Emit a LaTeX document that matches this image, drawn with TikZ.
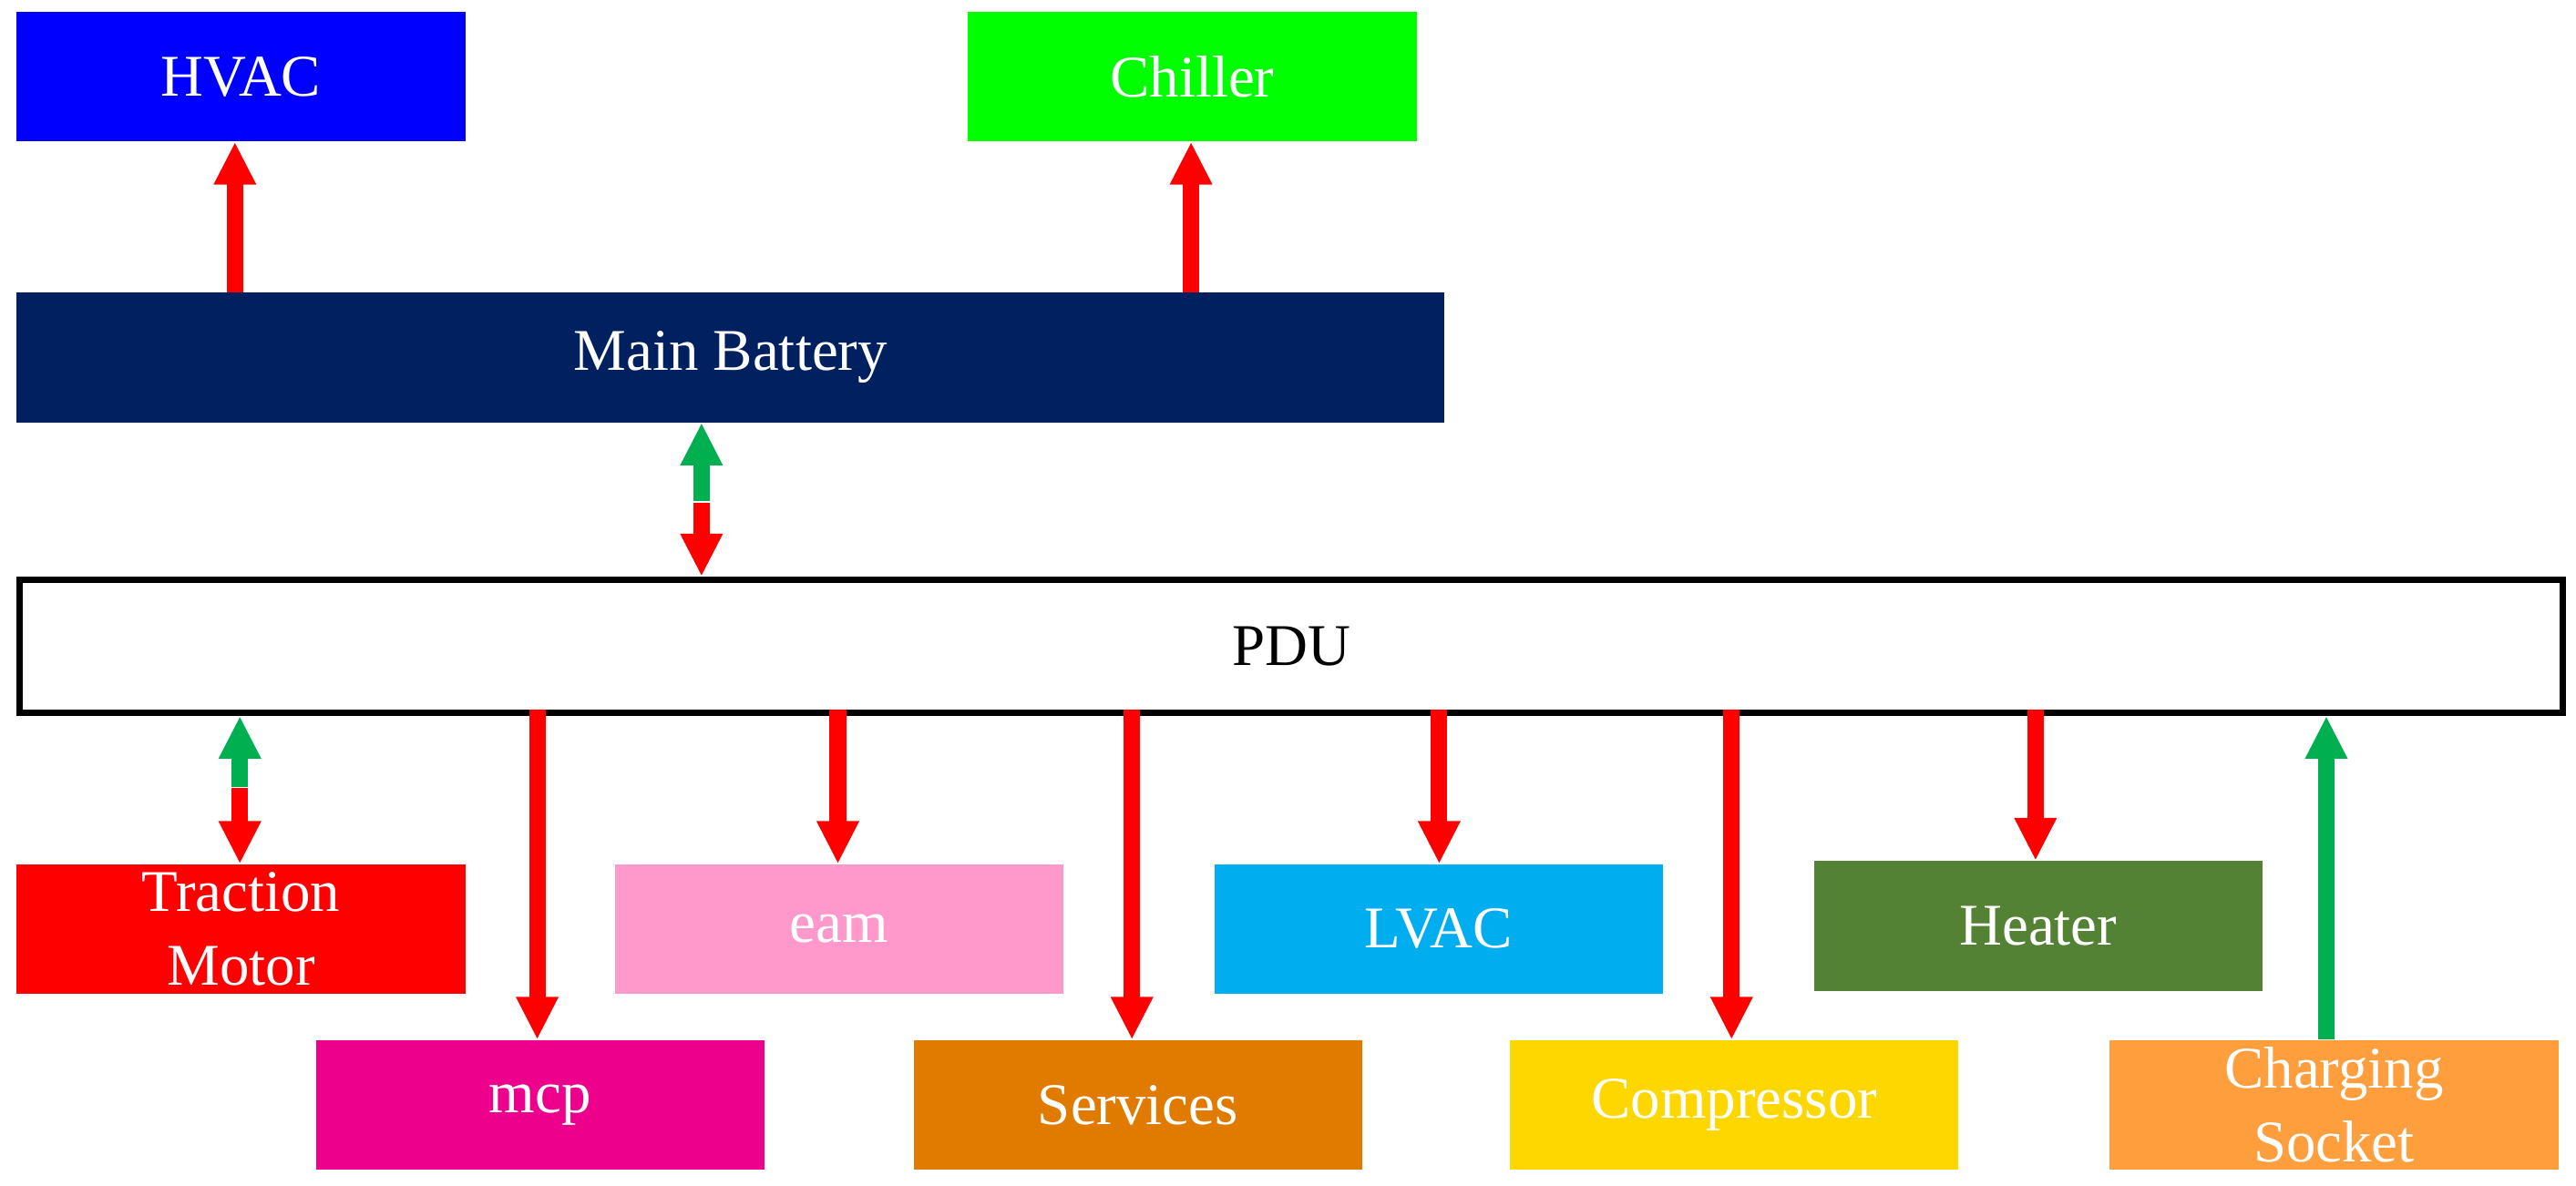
\documentclass[tikz,border=0pt]{standalone}
\usepackage{fontspec}
\setmainfont{Liberation Serif}
\usetikzlibrary{arrows.meta}
\definecolor{navy}{HTML}{002060}
\definecolor{pinkc}{HTML}{FF99CC}
\definecolor{heat}{HTML}{548235}
\definecolor{serv}{HTML}{E07B00}
\definecolor{comp}{HTML}{FFD700}
\definecolor{chg}{HTML}{FF9E3D}
\definecolor{gar}{HTML}{00B050}
\begin{document}
\begin{tikzpicture}[x=1pt,y=-1pt,
 box/.style={draw=none,minimum width=273pt,minimum height=79pt,inner sep=0pt,anchor=north west},
 txt/.style={text=white,font=\fontsize{36}{45}\selectfont,align=center},
 arr/.style={line width=10pt,-{Triangle[width=24pt,length=26pt]}},
 red arr/.style={arr,draw=red},
 grn arr/.style={arr,draw=gar}]
\useasboundingbox (0,0) rectangle (1568,722);
\node[box,fill=blue] (hvac) at (10,7) {};
\node[box,fill=green] (chil) at (589,7) {};
\node[box,fill=navy,minimum width=869pt] (mb) at (10,178) {};
\node[box,draw=black,line width=4pt,fill=white,minimum width=1548pt,minimum height=81pt] (pdu) at (10,351) {};
\node[box,fill=red] (tm) at (10,526) {};
\node[box,fill=pinkc] (eam) at (374,526) {};
\node[box,fill=cyan] (lvac) at (739,526) {};
\node[box,fill=heat] (heat) at (1104,524) {};
\node[box,fill=magenta] (mcp) at (192,633) {};
\node[box,fill=serv] (serv) at (556,633) {};
\node[box,fill=comp] (comp) at (919,633) {};
\node[box,fill=chg] (chg) at (1284,633) {};
\node[txt] (thvac) at (hvac.center) {HVAC};
\node[txt] (tchil) at (chil.center) {Chiller};
\node[txt] (tmb) at (mb.center) {Main Battery};
\node[txt,text=black] (tpdu) at (pdu.center) {PDU};
\node[txt] (ttm) at (tm.center) {Traction\\Motor};
\node[txt] (team) at (eam.center) {eam};
\node[txt] (tlvac) at (lvac.center) {LVAC};
\node[txt] (theat) at (heat.center) {Heater};
\node[txt] (tmcp) at (mcp.center) {mcp};
\node[txt] (tserv) at (serv.center) {Services};
\node[txt] (tcomp) at (comp.center) {Compressor};
\node[txt] (tchg) at (chg.center) {Charging\\Socket};
% top arrows
\coordinate (a1) at (143,178); \coordinate (a2) at (725,178);
\draw[red arr] (a1) -- (a1 |- hvac.south);
\draw[red arr] (a2) -- (a2 |- chil.south);
% battery - pdu
\coordinate (m1) at (427,305);
\draw[grn arr] (m1) -- (m1 |- mb.south);
\draw[red arr] ([yshift=-1pt]m1) -- (m1 |- pdu.north);
% traction
\coordinate (m2) at (146,479);
\draw[grn arr] (m2) -- (m2 |- pdu.south);
\draw[red arr] ([yshift=-1pt]m2) -- (m2 |- tm.north);
% down arrows
\foreach \x/\t in {327/mcp,510/eam,689/serv,876/lvac,1054/comp,1239/heat}{
  \coordinate (s\t) at (\x,432);
  \draw[red arr] (s\t) -- (s\t |- \t.north);
}
\coordinate (c1) at (1416,633);
\draw[grn arr] (c1) -- (c1 |- pdu.south);
\end{tikzpicture}
\end{document}
